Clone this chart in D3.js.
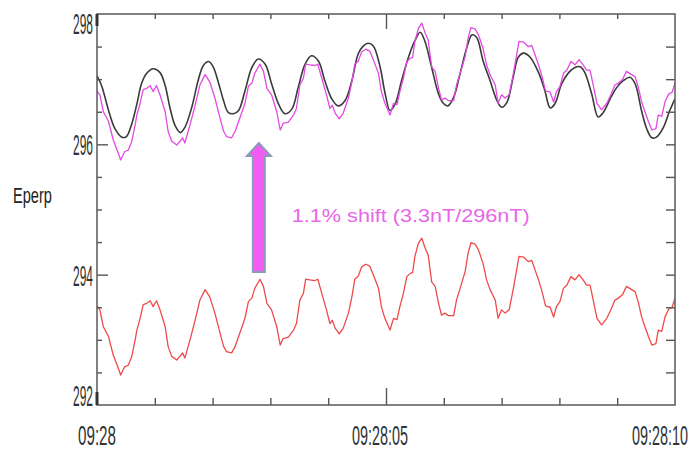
<!DOCTYPE html>
<html>
<head>
<meta charset="utf-8">
<script src="https://cdn.jsdelivr.net/npm/d3@7"></script>
<style>
  html, body { margin: 0; padding: 0; background: #fff; }
  svg { display: block; }
</style>
</head>
<body>
<svg id="chart" width="695" height="452"></svg>
<script>
// Time axis in seconds after 09:28:00
const timeTicks = [0, 5, 10];
const timeTickLabels = ["09:28", "09:28:05", "09:28:10"];
const valueTicks = [292, 294, 296, 298];
const valueTickLabels = ["292", "294", "296", "298"];
const axisTitle = "Eperp";
const shiftNote = "1.1% shift (3.3nT/296nT)";

// Sample times (s) shared by the measured (red) and shifted (magenta) traces
const sampleTimes = [
  0.00,0.05,0.11,0.20,0.28,0.37,0.41,0.48,0.54,0.60,
  0.66,0.69,0.74,0.80,0.86,0.92,0.97,1.03,1.09,1.18,
  1.23,1.29,1.38,1.44,1.48,1.52,1.61,1.70,1.78,1.87,
  1.95,2.04,2.13,2.19,2.24,2.33,2.39,2.47,2.56,2.62,
  2.68,2.73,2.82,2.88,2.94,3.02,3.11,3.17,3.22,3.31,
  3.40,3.45,3.51,3.57,3.61,3.68,3.77,3.82,3.89,3.97,
  4.03,4.07,4.12,4.19,4.26,4.35,4.41,4.46,4.52,4.58,
  4.65,4.72,4.78,4.87,4.92,4.98,5.07,
  5.13,5.19,5.24,5.30,5.36,5.42,5.46,5.50,5.56,5.62,
  5.68,5.73,5.79,5.85,5.91,5.96,6.02,6.08,6.17,6.22,
  6.31,6.37,6.42,6.47,6.54,6.60,6.68,6.74,6.80,6.89,
  6.94,7.00,7.06,7.13,7.20,7.26,7.30,7.38,7.46,7.52,
  7.58,7.65,7.70,7.76,7.84,7.90,7.95,8.01,8.07,8.13,
  8.20,8.27,8.34,8.41,8.47,8.53,8.59,8.65,8.73,8.82,
  8.90,8.96,9.02,9.09,9.16,9.25,9.31,9.37,9.42,9.48,
  9.54,9.60,9.67,9.71,9.77,9.83,9.89,9.95,10.00
];

// Measured Eperp (nT)
const measured = [
  293.52,293.46,293.20,293.05,292.77,292.56,292.46,292.59,292.61,292.74,
  293.00,293.15,293.31,293.54,293.56,293.60,293.51,293.60,293.46,293.20,
  292.90,292.75,292.69,292.75,292.80,292.72,293.00,293.31,293.61,293.77,
  293.66,293.41,293.10,292.90,292.82,292.80,292.90,293.10,293.33,293.59,
  293.64,293.79,293.93,293.82,293.56,293.46,293.20,292.92,293.02,293.04,
  293.15,293.25,293.61,293.71,293.93,293.92,293.91,293.93,293.71,293.46,
  293.25,293.30,293.18,293.09,293.18,293.41,293.66,293.93,293.98,294.12,
  294.16,294.13,294.00,293.79,293.51,293.33,293.15,
  293.33,293.31,293.51,293.71,293.97,294.02,294.03,294.28,294.48,294.56,
  294.40,294.30,293.89,293.82,293.56,293.38,293.41,293.37,293.37,293.61,
  293.87,294.05,294.33,294.49,294.47,294.38,294.17,293.92,293.77,293.61,
  293.33,293.46,293.41,293.46,293.77,294.07,294.28,294.27,294.20,294.22,
  294.07,293.89,293.74,293.52,293.50,293.35,293.51,293.59,293.79,293.84,
  293.97,293.92,294.00,293.92,293.84,293.84,293.59,293.33,293.23,293.33,
  293.48,293.61,293.64,293.69,293.82,293.77,293.74,293.56,293.36,293.20,
  293.05,292.92,292.94,293.15,293.13,293.36,293.47,293.50,293.64
];

// Same trace shifted up by 3.3 nT
const shifted = [
  296.82,296.76,296.50,296.35,296.07,295.86,295.76,295.89,295.91,296.04,
  296.30,296.45,296.61,296.84,296.86,296.90,296.81,296.90,296.76,296.50,
  296.20,296.05,295.99,296.05,296.10,296.02,296.30,296.61,296.91,297.07,
  296.96,296.71,296.40,296.20,296.12,296.10,296.20,296.40,296.63,296.89,
  296.94,297.09,297.23,297.12,296.86,296.76,296.50,296.22,296.32,296.34,
  296.45,296.55,296.91,297.01,297.23,297.22,297.21,297.23,297.01,296.76,
  296.55,296.60,296.48,296.39,296.48,296.71,296.96,297.23,297.28,297.42,
  297.46,297.43,297.30,297.09,296.81,296.63,296.45,
  296.63,296.61,296.81,297.01,297.27,297.32,297.33,297.58,297.78,297.86,
  297.70,297.60,297.19,297.12,296.86,296.68,296.71,296.67,296.67,296.91,
  297.17,297.35,297.63,297.79,297.77,297.68,297.47,297.22,297.07,296.91,
  296.63,296.76,296.71,296.76,297.07,297.37,297.58,297.57,297.50,297.52,
  297.37,297.19,297.04,296.82,296.80,296.65,296.81,296.89,297.09,297.14,
  297.27,297.22,297.30,297.22,297.14,297.14,296.89,296.63,296.53,296.63,
  296.78,296.91,296.94,296.99,297.12,297.07,297.04,296.86,296.66,296.50,
  296.35,296.22,296.24,296.45,296.43,296.66,296.77,296.80,296.94
];

// Model field (nT) and its sample times (s)
const modelTimes = [
  0.00,0.08,0.20,0.31,0.43,0.51,0.60,0.69,0.77,0.86,
  0.97,1.09,1.18,1.26,1.35,1.44,1.52,1.64,1.75,1.84,
  1.93,2.01,2.10,2.19,2.27,2.36,2.45,2.56,2.68,2.79,
  2.91,3.02,3.14,3.25,3.37,3.48,3.60,3.71,3.83,3.94,
  4.06,4.17,4.29,4.41,4.52,4.61,4.69,4.78,4.90,
  4.98,5.07,5.16,5.27,5.39,5.50,5.59,5.67,5.79,5.91,
  5.99,6.07,6.17,6.28,6.40,6.49,6.57,6.68,6.80,6.92,
  7.00,7.09,7.20,7.29,7.38,7.49,7.64,7.75,7.84,7.92,
  8.04,8.16,8.27,8.36,8.44,8.56,8.67,8.76,8.88,8.99,
  9.11,9.22,9.31,9.42,9.51,9.60,9.68,9.80,9.91,10.00
];
const model = [
  297.05,296.90,296.52,296.24,296.11,296.12,296.31,296.62,296.93,297.09,
  297.16,297.10,296.90,296.57,296.29,296.18,296.26,296.57,296.98,297.21,
  297.27,297.19,296.95,296.67,296.49,296.47,296.52,296.82,297.18,297.31,
  297.23,296.93,296.62,296.47,296.54,296.87,297.23,297.36,297.28,296.98,
  296.70,296.59,296.67,296.98,297.39,297.51,297.55,297.51,297.18,
  296.80,296.52,296.62,296.98,297.34,297.59,297.72,297.59,297.18,296.77,
  296.63,296.59,296.72,297.08,297.49,297.68,297.64,297.28,296.98,296.67,
  296.57,296.64,297.03,297.34,297.40,297.34,297.10,296.82,296.56,296.62,
  296.93,297.10,297.18,297.19,297.10,296.77,296.42,296.49,296.70,296.87,
  296.98,297.03,296.93,296.52,296.24,296.10,296.11,296.26,296.52,296.70
];

// Shift arrow: time position and value span (nT)
const arrowTime = 2.8;
const arrowFrom = 294.04;
const arrowTo = 296.02;
// Annotation anchor (time s, value nT)
const noteTime = 3.37;
const noteValue = 294.81;

const svg = d3.select("#chart");
const plot = { left: 97, top: 14, right: 675, bottom: 405 };

const x = d3.scaleLinear().domain([0, 10]).range([plot.left, plot.right]);
const y = d3.scaleLinear().domain([292, 298]).range([plot.bottom, plot.top]);

const zip = (ts, vs) => d3.range(Math.min(ts.length, vs.length)).map(i => [ts[i], vs[i]]);

const clipId = "plot-clip";
svg.append("defs").append("clipPath").attr("id", clipId)
  .append("rect")
  .attr("x", plot.left).attr("y", plot.top)
  .attr("width", plot.right - plot.left).attr("height", plot.bottom - plot.top);

// Traces
const lineRaw = d3.line().x(d => x(d[0])).y(d => y(d[1]));
const lineSmooth = d3.line().x(d => x(d[0])).y(d => y(d[1])).curve(d3.curveCatmullRom.alpha(0.5));

const traces = svg.append("g").attr("clip-path", `url(#${clipId})`);
traces.append("path")
  .attr("d", lineRaw(zip(sampleTimes, measured)))
  .attr("fill", "none").attr("stroke", "#ee4a4a").attr("stroke-width", 1.3)
  .attr("stroke-linejoin", "round");
traces.append("path")
  .attr("d", lineSmooth(zip(modelTimes, model)))
  .attr("fill", "none").attr("stroke", "#3a3a3a").attr("stroke-width", 1.6);
traces.append("path")
  .attr("d", lineRaw(zip(sampleTimes, shifted)))
  .attr("fill", "none").attr("stroke", "#e449e4").attr("stroke-width", 1.3)
  .attr("stroke-linejoin", "round");

// Frame and ticks
const axisColor = "#555";
const half = d3.range(292.5, 298, 0.5);
const minorT = [1, 2, 3, 4, 6, 7, 8, 9];

function styleAxis(g) {
  g.select(".domain").remove();
  g.selectAll("line").attr("stroke", axisColor).attr("stroke-width", 1.4);
  g.selectAll("text").remove();
}

svg.append("g").attr("transform", `translate(0,${plot.top})`)
  .call(d3.axisTop(x).tickValues(minorT).tickSize(-5)).call(styleAxis);
svg.append("g").attr("transform", `translate(0,${plot.top})`)
  .call(d3.axisTop(x).tickValues([5]).tickSize(-15)).call(styleAxis);
svg.append("g").attr("transform", `translate(0,${plot.bottom})`)
  .call(d3.axisBottom(x).tickValues(minorT).tickSize(-7)).call(styleAxis);
svg.append("g").attr("transform", `translate(0,${plot.bottom})`)
  .call(d3.axisBottom(x).tickValues([5]).tickSize(-17)).call(styleAxis);

svg.append("g").attr("transform", `translate(${plot.left},0)`)
  .call(d3.axisLeft(y).tickValues(half.filter(v => v !== 294 && v !== 296)).tickSize(-5)).call(styleAxis);
svg.append("g").attr("transform", `translate(${plot.left},0)`)
  .call(d3.axisLeft(y).tickValues([294, 296]).tickSize(-11)).call(styleAxis);
svg.append("g").attr("transform", `translate(${plot.right},0)`)
  .call(d3.axisRight(y).tickValues(half).tickSize(-9)).call(styleAxis);

svg.append("rect")
  .attr("x", plot.left).attr("y", plot.top)
  .attr("width", plot.right - plot.left).attr("height", plot.bottom - plot.top)
  .attr("fill", "none").attr("stroke", "#5a5a5a").attr("stroke-width", 1.5);

// heavier strokes at both ends of the value axis
svg.append("line")
  .attr("x1", plot.left).attr("x2", plot.left)
  .attr("y1", y(298)).attr("y2", y(298) + 12)
  .attr("stroke", "#333").attr("stroke-width", 3);
svg.append("line")
  .attr("x1", plot.left).attr("x2", plot.left)
  .attr("y1", y(292) - 13).attr("y2", y(292))
  .attr("stroke", "#333").attr("stroke-width", 3);

// Tall, horizontally condensed lettering: the text is drawn at its natural
// size and squeezed with a horizontal scale so it spans `width` pixels.
const labelFont = "'Liberation Sans Narrow', 'Arial Narrow', 'Liberation Sans', Arial, sans-serif";
function condensed(str, left, baseline, size, width, fill) {
  const g = svg.append("g");
  const t = g.append("text")
    .attr("x", 0).attr("y", 0)
    .attr("font-family", labelFont).attr("font-size", size)
    .attr("fill", fill)
    .text(str);
  const natural = t.node().getComputedTextLength() || width;
  g.attr("transform", `translate(${left},${baseline}) scale(${width / natural},1)`);
  return g;
}

valueTicks.forEach((v, i) => {
  const base = Math.max(plot.top + 20, Math.min(y(v) + 11, plot.bottom + 1));
  condensed(valueTickLabels[i], plot.left - 24, base, 29, 20, "#333");
});

const tlWidths = [38, 56, 56];
const tlShift = [0, -6, -15];
timeTicks.forEach((t, i) => {
  condensed(timeTickLabels[i], x(t) + tlShift[i] - tlWidths[i] / 2, 445, 27, tlWidths[i], "#333");
});

condensed(axisTitle, 13, 203, 22, 39, "#222");

// Shift arrow from the measured level to the shifted level
const ax = x(arrowTime), yTail = y(arrowFrom), yTip = y(arrowTo);
const shaftHalf = 6, headHalf = 12, headLen = 13;
const arrowPts = [
  [ax - shaftHalf, yTail], [ax - shaftHalf, yTip + headLen], [ax - headHalf, yTip + headLen],
  [ax, yTip], [ax + headHalf, yTip + headLen], [ax + shaftHalf, yTip + headLen], [ax + shaftHalf, yTail]
];
svg.append("polygon")
  .attr("points", arrowPts.map(p => p.join(",")).join(" "))
  .attr("fill", "#f25cf2").attr("stroke", "#8c9cb8").attr("stroke-width", 2)
  .attr("stroke-linejoin", "miter");

svg.append("text")
  .attr("x", x(noteTime)).attr("y", y(noteValue))
  .attr("font-family", "'Liberation Sans', Arial, sans-serif").attr("font-size", 18)
  .attr("textLength", 238).attr("lengthAdjust", "spacingAndGlyphs")
  .attr("fill", "#e866e8")
  .text(shiftNote);
</script>
</body>
</html>
